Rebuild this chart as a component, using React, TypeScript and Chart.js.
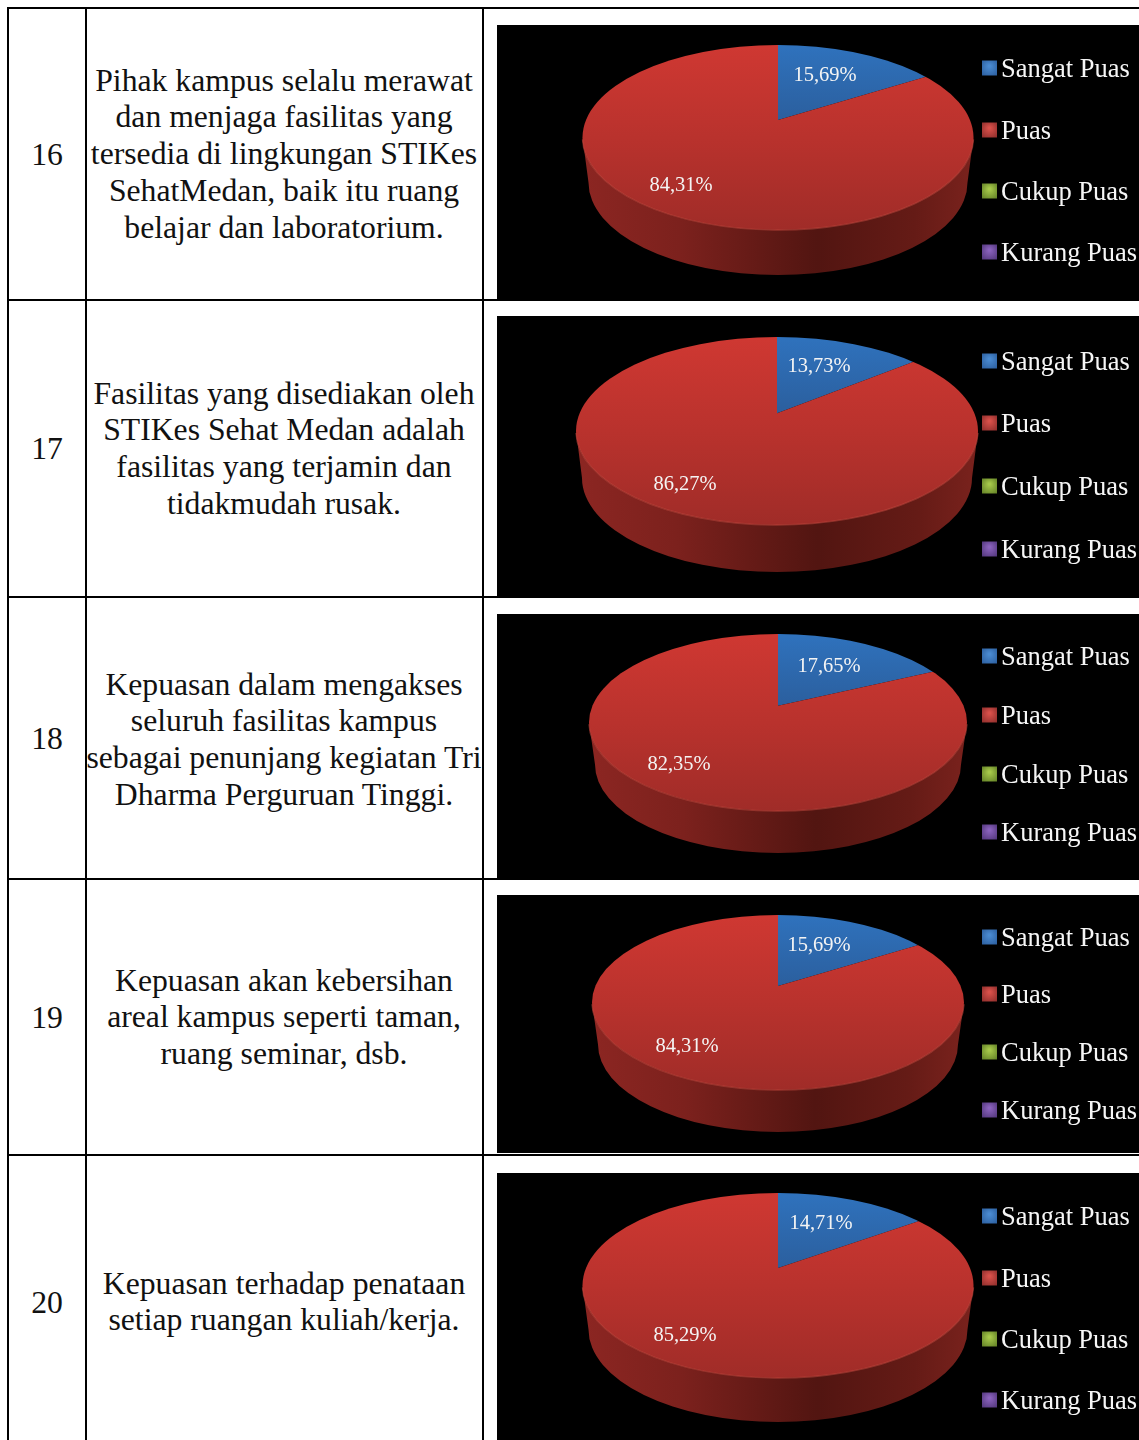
import React, { useEffect, useRef } from "react";
import { Chart, registerables } from "chart.js";

Chart.register(...registerables);

// ---- data ----
const categories = ["Sangat Puas", "Puas", "Cukup Puas", "Kurang Puas"];
const questionNumbers = ["16", "17", "18", "19", "20"];
const sangatPuas = [15.69, 13.73, 17.65, 15.69, 14.71];
const puas = [84.31, 86.27, 82.35, 84.31, 85.29];
const cukupPuas = [0, 0, 0, 0, 0];
const kurangPuas = [0, 0, 0, 0, 0];
const questionLines = [
  ["Pihak kampus selalu merawat", "dan menjaga fasilitas yang", "tersedia di lingkungan STIKes", "SehatMedan, baik itu ruang", "belajar dan laboratorium."],
  ["Fasilitas yang disediakan oleh", "STIKes Sehat Medan adalah", "fasilitas yang terjamin dan", "tidakmudah rusak."],
  ["Kepuasan dalam mengakses", "seluruh fasilitas kampus", "sebagai penunjang kegiatan Tri", "Dharma Perguruan Tinggi."],
  ["Kepuasan akan kebersihan", "areal kampus seperti taman,", "ruang seminar, dsb."],
  ["Kepuasan terhadap penataan", "setiap ruangan kuliah/kerja."],
];

// ---- layout (page pixels) ----
const hLines = [8, 300, 597, 879, 1155];
const vLines = [8, 86, 483];
const panelX = 497;
const panelTops = [25, 316, 614, 895, 1173];
const panelBottoms = [300, 597, 879, 1153, 1440];
const pieCx = [778, 777, 778, 778, 778];
const pieCy = [137.5, 431, 722.5, 1002.5, 1285.5];
const pieRx = [195.5, 201, 189, 186, 195.5];
const pieRy = [92.5, 94, 88.5, 87.5, 92.5];
const pieDepth = [45, 47, 42, 42, 44];
const numberY = [154, 448, 738, 1017, 1302];
const textFirstY = [80, 393, 684, 980, 1283];
const legendYs = [
  [68, 130, 191, 252],
  [361, 423, 486, 549],
  [656, 715, 774, 832],
  [937, 994, 1052, 1110],
  [1216, 1278, 1339, 1400],
];
const labelBlue = [[825, 74], [819, 365], [829, 665], [819, 944], [821, 1222]];
const labelRed = [[681, 184], [685, 483], [679, 763], [687, 1045], [685, 1334]];
const swatchColors = [
  ["#4a8ad0", "#2a5c9c"],
  ["#d8504a", "#8a2c2a"],
  ["#a6c84a", "#5f7d24"],
  ["#8a62bc", "#4f3478"],
];
const fmt = (v: number) => v.toFixed(2).replace(".", ",") + "%";
const SERIF = '"Liberation Serif", serif';
const TILT = 0.44;

function makePlugin(i: number) {
  const top = panelTops[i];
  const cx = pieCx[i] - panelX;
  const cy = pieCy[i] - top;
  const rx = pieRx[i];
  const ry = pieRy[i];
  const d = pieDepth[i];
  const vy = cy - 0.19 * ry;
  return {
    id: "pie3d" + i,
    beforeDatasetsDraw(chart: any) {
      const ctx = chart.ctx;
      ctx.save();
      const side = ctx.createLinearGradient(cx - rx, 0, cx + rx, 0);
      side.addColorStop(0, "#8c2622");
      side.addColorStop(0.25, "#7c211d");
      side.addColorStop(0.6, "#521511");
      side.addColorStop(0.85, "#651b16");
      side.addColorStop(1, "#7a221d");
      ctx.beginPath();
      ctx.ellipse(cx, cy, rx, ry, 0, 0, Math.PI);
      ctx.ellipse(cx, cy + d, rx - 6, ry, 0, Math.PI, 0, true);
      ctx.closePath();
      ctx.fillStyle = side;
      ctx.fill();
      ctx.restore();

      ctx.save();
      ctx.beginPath();
      ctx.ellipse(cx, cy, rx, ry, 0, 0, Math.PI * 2);
      ctx.clip();
      const mx = chart.width / 2;
      const my = chart.height / 2;
      ctx.translate(cx, vy);
      ctx.scale(1, TILT);
      ctx.translate(-mx, -my);
    },
    afterDatasetsDraw(chart: any) {
      const ctx = chart.ctx;
      ctx.restore();
      ctx.save();
      ctx.beginPath();
      ctx.ellipse(cx, cy, rx, ry, 0, 0.02, Math.PI - 0.02);
      ctx.strokeStyle = "rgba(190,70,60,0.55)";
      ctx.lineWidth = 1.5;
      ctx.stroke();

      ctx.fillStyle = "#f4f4f4";
      ctx.textAlign = "center";
      ctx.textBaseline = "middle";
      ctx.font = `20.5px ${SERIF}`;
      const vals = chart.data.datasets[0].data;
      ctx.fillText(fmt(vals[0]), labelBlue[i][0] - panelX, labelBlue[i][1] - top + 2);
      ctx.fillText(fmt(vals[1]), labelRed[i][0] - panelX, labelRed[i][1] - top + 2);

      chart.data.labels.forEach((label: string, k: number) => {
        const y = legendYs[i][k] - top;
        const x = 982 - panelX;
        const g = ctx.createRadialGradient(x + 7.5, y - 2, 1, x + 7.5, y, 11);
        g.addColorStop(0, swatchColors[k][0]);
        g.addColorStop(1, swatchColors[k][1]);
        ctx.fillStyle = g;
        ctx.fillRect(x, y - 7.5, 15, 15);
        ctx.fillStyle = "#f6f6f6";
        ctx.textAlign = "left";
        ctx.font = `26.5px ${SERIF}`;
        ctx.fillText(label, 1001 - panelX, y + 2);
      });
      ctx.restore();
    },
  };
}

function PiePanel({ index }: { index: number }) {
  const ref = useRef<HTMLCanvasElement>(null);
  useEffect(() => {
    const top = panelTops[index];
    const cy = pieCy[index] - top;
    const ry = pieRy[index];
    const vy = cy - 0.19 * ry;
    const toChartY = (y: number, h: number) => (y - vy) / TILT + h / 2;
    const chart = new Chart(ref.current!, {
      type: "pie",
      data: {
        labels: categories,
        datasets: [
          {
            data: [sangatPuas[index], puas[index], cukupPuas[index], kurangPuas[index]],
            radius: 320,
            borderWidth: 0,
            clip: false,
            backgroundColor: (c: any) => {
              const h = c.chart.height;
              const y0 = toChartY(cy - ry, h);
              const y1 = toChartY(cy + ry, h);
              const y2 = toChartY(vy, h);
              const g = c.chart.ctx.createLinearGradient(0, y0, 0, c.dataIndex === 0 ? y2 : y1);
              if (c.dataIndex === 0) {
                g.addColorStop(0, "#2f72bd");
                g.addColorStop(1, "#2b5f9e");
              } else {
                g.addColorStop(0, "#cf3832");
                g.addColorStop(0.5, "#b9322d");
                g.addColorStop(1, "#a02c28");
              }
              return g;
            },
          } as any,
        ],
      },
      options: {
        animation: false,
        responsive: false,
        plugins: { legend: { display: false }, tooltip: { enabled: false } },
      },
      plugins: [makePlugin(index)],
    } as any);
    return () => chart.destroy();
  }, [index]);
  return (
    <canvas
      ref={ref}
      width={1139 - panelX}
      height={panelBottoms[index] - panelTops[index]}
      style={{ position: "absolute", left: panelX, top: panelTops[index], background: "#000", display: "block", filter: "blur(0.4px)" }}
    />
  );
}

export default function App() {
  const text: React.CSSProperties = {
    position: "absolute",
    whiteSpace: "nowrap",
    fontFamily: SERIF,
    fontSize: 31.7,
    lineHeight: "37px",
    color: "#111",
    textAlign: "center",
  };
  return (
    <div style={{ position: "absolute", left: 0, top: 0, width: 1139, height: 1440, overflow: "hidden", background: "#fff" }}>
      {hLines.map((y) => (
        <div key={"h" + y} style={{ position: "absolute", left: 7, top: y - 1, width: 1132, height: 2, background: "#000" }} />
      ))}
      {vLines.map((x) => (
        <div key={"v" + x} style={{ position: "absolute", left: x - 1, top: 7, width: 2, height: 1433, background: "#000" }} />
      ))}
      {questionNumbers.map((n, i) => (
        <div key={n} style={{ ...text, left: 8, width: 78, top: numberY[i] - 18.5 }}>
          {n}
        </div>
      ))}
      {questionLines.map((lines, i) =>
        lines.map((line, k) => (
          <div key={i + "-" + k} style={{ ...text, left: 84, width: 400, top: textFirstY[i] + k * 36.75 - 18.5 }}>
            {line}
          </div>
        ))
      )}
      {questionNumbers.map((n, i) => (
        <PiePanel key={n} index={i} />
      ))}
    </div>
  );
}
